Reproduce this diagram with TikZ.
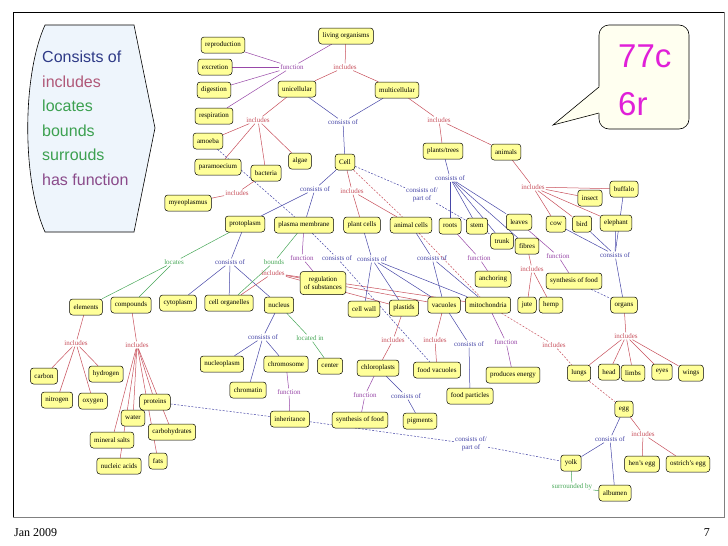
\documentclass[tikz,border=0pt]{standalone}
\usepackage{fontspec}
\setmainfont{Liberation Serif}
\newfontfamily\sansf{Liberation Sans}
\usetikzlibrary{backgrounds}
\pgfdeclarelayer{backzero}
\pgfsetlayers{backzero,background,main}
\definecolor{ny}{HTML}{FFFF99}
\definecolor{cb}{HTML}{4848A8}
\definecolor{cr}{HTML}{C8505C}
\definecolor{cp}{HTML}{9848A8}
\definecolor{cg}{HTML}{48A858}
\definecolor{legfill}{HTML}{EEF5FC}
\definecolor{callfill}{HTML}{FFFFF0}
\definecolor{mag}{HTML}{E020D8}
\definecolor{legblue}{HTML}{2E3A87}
\definecolor{legred}{HTML}{B05878}
\definecolor{leggreen}{HTML}{3CA050}
\definecolor{legpurple}{HTML}{8A4A8A}
\begin{document}
\begin{tikzpicture}[x=1pt,y=-1pt,
  nd/.style={draw, fill=ny, rounded corners=3pt, line width=0.5pt, font=\fontsize{7}{8}\selectfont, inner xsep=4pt, inner ysep=1pt, minimum height=16pt},
  lb/.style={font=\fontsize{7}{7.5}\selectfont, inner sep=1pt, align=center},
  lbb/.style={lb, text=cb}, lbr/.style={lb, text=cr}, lbp/.style={lb, text=cp}, lbg/.style={lb, text=cg},
  eb/.style={draw=cb, line width=0.5pt}, er/.style={draw=cr, line width=0.5pt},
  ep/.style={draw=cp, line width=0.5pt}, eg/.style={draw=cg, line width=0.5pt},
  dsh/.style={dash pattern=on 2pt off 1.5pt},
  legtext/.style={font=\sansf\fontsize{16}{18}\selectfont, anchor=base west, inner sep=0pt}]
\useasboundingbox (0,0) rectangle (728,546);
\begin{pgfonlayer}{backzero}
\fill[white] (0,0) rectangle (728,546);
\end{pgfonlayer}
% frame
\draw[line width=0.6pt] (13,12) -- (724,12);
\draw[line width=0.6pt] (13,12) -- (13,517);
\draw[line width=0.8pt, gray] (13,517) -- (724,517) -- (724,12);
% footer
\node[font=\fontsize{12}{13}\selectfont, anchor=base west, inner sep=0pt] (foot1) at (14,536) {Jan 2009};
\node[font=\fontsize{12}{13}\selectfont, anchor=base east, inner sep=0pt] (foot2) at (710,536) {7};
% legend shape
\draw[fill=legfill, line width=0.6pt] (45,25) -- (134,25) -- (155,128) -- (134,232) -- (45,232) .. controls (22,180) and (22,76) .. (45,25) -- cycle;
\node[legtext, text=legblue] (lg1) at (42,62.5) {Consists of};
\node[legtext, text=legred] (lg2) at (42,87) {includes};
\node[legtext, text=leggreen] (lg3) at (42,111.5) {locates};
\node[legtext, text=leggreen] (lg4) at (42,136) {bounds};
\node[legtext, text=leggreen] (lg5) at (42,160.5) {surrouds};
\node[legtext, text=legpurple] (lg6) at (42,185) {has function};
% callout
\draw[fill=callfill, line width=0.6pt, rounded corners=10pt] (599,87) -- (599,25) -- (689,25) -- (689,129) -- (599,129) -- (599,113);
\fill[callfill] (599.4,86) -- (553,125) -- (599.4,114) -- cycle;
\draw[line width=0.6pt] (599,87) -- (553,125) -- (599,113);
\node[font=\sansf\fontsize{33}{35}\selectfont, text=mag, anchor=base west, inner sep=0pt] (c77) at (618,67) {77c};
\node[font=\sansf\fontsize{33}{35}\selectfont, text=mag, anchor=base west, inner sep=0pt] (c6r) at (618,115) {6r};
% nodes
\node[nd] (liv) at (346,36) {living organisms};
\node[nd] (rep) at (223,45) {reproduction};
\node[nd] (exc) at (215,67) {excretion};
\node[nd] (dig) at (214,90) {digestion};
\node[nd] (res) at (214,116) {respiration};
\node[nd] (uni) at (297,89) {unicellular};
\node[nd] (mul) at (397,90) {multicellular};
\node[nd] (amo) at (208,141) {amoeba};
\node[nd] (par) at (218,167) {paramoecium};
\node[nd] (bac) at (266,173) {bacteria};
\node[nd] (alg) at (300,161) {algae};
\node[nd] (cell) at (345,162) {Cell};
\node[nd] (myc) at (188,203) {myeoplasmus};
\node[nd] (pla) at (443,151) {plants/trees};
\node[nd] (ani) at (506,152) {animals};
\node[nd] (ins) at (590,198) {insect};
\node[nd] (buf) at (624,189) {buffalo};
\node[nd] (prot) at (245,224) {protoplasm};
\node[nd] (pm) at (304,225) {plasma membrane};
\node[nd] (plc) at (362,225) {plant cells};
\node[nd] (anc) at (411,225) {animal cells};
\node[nd] (roo) at (450,226) {roots};
\node[nd] (ste) at (477,226) {stem};
\node[nd] (lea) at (519,222) {leaves};
\node[nd] (tru) at (502,241) {trunk};
\node[nd] (fib) at (527,246) {fibres};
\node[nd] (cow) at (556,224) {cow};
\node[nd] (bir) at (582,224) {bird};
\node[nd] (ele) at (616,223) {elephant};
\node[nd] (anch) at (493,279) {anchoring};
\node[nd] (syn1) at (574,281) {synthesis of food};
\node[nd, align=center, minimum height=23pt] (reg) at (323,283) {regulation\\of substances};
\node[nd] (cyt) at (178,303) {cytoplasm};
\node[nd] (org) at (229,303) {cell organelles};
\node[nd] (nuc) at (279,305) {nucleus};
\node[nd] (elem) at (86,307) {elements};
\node[nd] (comp) at (131,305) {compounds};
\node[nd] (cw) at (364,309) {cell wall};
\node[nd] (plas) at (404,308) {plastids};
\node[nd] (vac) at (444,305) {vacuoles};
\node[nd] (mit) at (488,305) {mitochondria};
\node[nd] (jut) at (527,305) {jute};
\node[nd] (hem) at (551,305) {hemp};
\node[nd] (orgs) at (624,305) {organs};
\node[nd] (nup) at (222,364) {nucleoplasm};
\node[nd] (chr) at (286,364) {chromosome};
\node[nd] (cen) at (330,366) {center};
\node[nd] (chl) at (378,368) {chloroplasts};
\node[nd] (fv) at (437,370) {food vacuoles};
\node[nd] (pe) at (513,375) {produces energy};
\node[nd] (lun) at (579,373) {lungs};
\node[nd] (hea) at (609,372) {head};
\node[nd] (lim) at (633,373) {limbs};
\node[nd] (eye) at (662,372) {eyes};
\node[nd] (win) at (691,373) {wings};
\node[nd] (car) at (44,376) {carbon};
\node[nd] (hyd) at (106,374) {hydrogen};
\node[nd] (nit) at (57,400) {nitrogen};
\node[nd] (oxy) at (93,401) {oxygen};
\node[nd] (pro) at (155,402) {proteins};
\node[nd] (wat) at (133,418) {water};
\node[nd] (cbh) at (172,432) {carbohydrates};
\node[nd] (min) at (112,440) {mineral salts};
\node[nd] (fat) at (158,461) {fats};
\node[nd] (nuca) at (119,466) {nucleic acids};
\node[nd] (chm) at (248,390) {chromatin};
\node[nd] (inh) at (290,419) {inheritance};
\node[nd] (syn2) at (360,420) {synthesis of food};
\node[nd] (pig) at (420,421) {pigments};
\node[nd] (fp) at (470,396) {food particles};
\node[nd] (egg) at (624,409) {egg};
\node[nd] (yol) at (571,463) {yolk};
\node[nd] (hen) at (642,464) {hen's egg};
\node[nd] (ost) at (688,464) {ostrich's egg};
\node[nd] (alb) at (615,493) {albumen};
% labels
\node[lbp] (f1) at (292,67) {function};
\node[lbr] (i1) at (345,67) {includes};
\node[lbr] (i2) at (258,120) {includes};
\node[lbb] (c1) at (343,122) {consists of};
\node[lbr] (i3) at (439,120) {includes};
\node[lbr] (i4) at (237,193) {includes};
\node[lbb] (c2) at (315,189) {consists of};
\node[lbr] (i5) at (352,191) {includes};
\node[lbb] (cp1) at (422,195) {consists of/\\part of};
\node[lbb] (c3) at (450,178) {consists of};
\node[lbr] (i6) at (533,187) {includes};
\node[lbg] (loc) at (174,262) {locates};
\node[lbb] (c4) at (230,262) {consists of};
\node[lbg] (bnd) at (274,262) {bounds};
\node[lbp] (f2) at (302,258) {function};
\node[lbb] (c5) at (337,258) {consists of};
\node[lbr] (i7) at (273,273) {includes};
\node[lbb] (c6) at (372,259) {consists of};
\node[lbb] (c7) at (432,258) {consists of};
\node[lbp] (f3) at (479,258) {function};
\node[lbp] (f4) at (558,256) {function};
\node[lbr] (i8) at (532,269) {includes};
\node[lbb] (c8) at (615,255) {consists of};
\node[lbr] (i9) at (76,343) {includes};
\node[lbr] (i10) at (137,345) {includes};
\node[lbb] (c9) at (263,337) {consists of};
\node[lbg] (li) at (310,338) {located in};
\node[lbr] (i11) at (393,340) {includes};
\node[lbr] (i12) at (435,340) {includes};
\node[lbb] (c10) at (469,344) {consists of};
\node[lbp] (f5) at (506,342) {function};
\node[lbr] (i13) at (554,345) {includes};
\node[lbr] (i14) at (626,336) {includes};
\node[lbp] (f6) at (289,392) {function};
\node[lbp] (f7) at (365,395) {function};
\node[lbb] (c11) at (406,396) {consists of};
\node[lbb] (cp2) at (471,444) {consists of/\\part of};
\node[lbb] (c12) at (610,439) {consists of};
\node[lbr] (i15) at (643,434) {includes};
\node[lbg] (sb) at (572,487) {surrounded by};
% edges
\begin{scope}[on background layer]
\foreach \t in {rep,exc,dig,res} \draw[ep] (f1) -- (\t);
\draw[ep] (liv) -- (f1);
\draw[ep] (pm) -- (f2); \draw[ep] (f2) -- (reg);
\draw[ep] (roo) -- (f3); \draw[ep] (f3) -- (anch);
\draw[ep] (lea) -- (f4); \draw[ep] (f4) -- (syn1);
\draw[ep] (mit) -- (f5); \draw[ep] (f5) -- (pe);
\draw[ep] (chr) -- (f6); \draw[ep] (f6) -- (inh);
\draw[ep] (chl) -- (f7); \draw[ep] (f7) -- (syn2);
% includes
\draw[er] (liv) -- (i1); \foreach \t in {uni,mul} \draw[er] (i1) -- (\t);
\draw[er] (uni) -- (i2); \foreach \t in {amo,par,bac,alg} \draw[er] (i2) -- (\t);
\draw[er] (mul) -- (i3); \foreach \t in {pla,ani} \draw[er] (i3) -- (\t);
\draw[er] (bac) -- (i4); \draw[er] (i4) -- (myc);
\draw[er] (cell) -- (i5); \foreach \t in {plc,anc} \draw[er] (i5) -- (\t);
\draw[er] (ani) -- (i6); \foreach \t in {ins,buf,ele,bir,cow} \draw[er] (i6) -- (\t);
\draw[er] (org) -- (i7); \foreach \t in {plas,vac,mit} \draw[er] (i7) -- (\t);
\draw[er] (fib) -- (i8); \foreach \t in {jut,hem} \draw[er] (i8) -- (\t);
\draw[er] (elem) -- (i9); \foreach \t in {car,hyd,nit,oxy} \draw[er] (i9) -- (\t);
\draw[er] (comp) -- (i10); \foreach \t in {pro,wat,cbh,min,fat,nuca} \draw[er] (i10) -- (\t);
\draw[er] (plas) -- (i11); \draw[er] (i11) -- (chl);
\draw[er] (vac) -- (i12); \draw[er] (i12) -- (fv);
\draw[er] (orgs) -- (i14); \foreach \t in {lun,hea,lim,eye,win} \draw[er] (i14) -- (\t);
\draw[er] (egg) -- (i15); \foreach \t in {hen,ost} \draw[er] (i15) -- (\t);
\draw[er, dsh] (cell) -- (anc);
\draw[er, dsh] (anc) -- (mit);
\draw[er, dsh] (mit) -- (i13); \draw[er, dsh] (i13) -- (lun);
\draw[er, dsh] (lun) -- (egg);
% consists of
\draw[eb] (uni) -- (c1); \draw[eb] (mul) -- (c1); \draw[eb] (c1) -- (cell);
\draw[eb] (cell) -- (c2); \foreach \t in {prot,pm} \draw[eb] (c2) -- (\t);
\draw[eb] (pla) -- (c3); \foreach \t in {roo,ste,tru,lea,fib} \draw[eb] (c3) -- (\t);
\draw[eb] (prot) -- (c4); \foreach \t in {cyt,org,nuc} \draw[eb] (c4) -- (\t);
\draw[eb] (plc) -- (c6); \foreach \t in {cw,plas,vac,mit} \draw[eb] (c6) -- (\t);
\draw[eb] (anc) -- (c7); \foreach \t in {vac,mit} \draw[eb] (c7) -- (\t);
\foreach \t in {ele,bir,cow,buf} \draw[eb] (\t) -- (c8);
\draw[eb] (c8) -- (orgs);
\draw[eb] (nuc) -- (c9); \foreach \t in {nup,chr,chm} \draw[eb] (c9) -- (\t);
\draw[eb] (vac) -- (c10); \draw[eb] (c10) -- (fp);
\draw[eb] (chl) -- (c11); \draw[eb] (c11) -- (pig);
\draw[eb] (egg) -- (c12); \foreach \t in {yol,alb} \draw[eb] (c12) -- (\t);
\draw[eb, dsh] (cell) -- (cp1); \draw[eb, dsh] (cp1) -- (tru);
\draw[eb, dsh] (amo) -- (pm);
\draw[eb, dsh] (pm) -- (c5); \draw[eb, dsh] (c5) -- (fv);
\draw[eb, dsh] (syn1) -- (orgs);
\draw[eb, dsh] (pro) -- (inh); \draw[eb, dsh] (inh) -- (cp2); \draw[eb, dsh] (cp2) -- (yol);
% green
\draw[eg] (prot) -- (loc); \foreach \t in {elem,comp} \draw[eg] (loc) -- (\t);
\draw[eg] (pm) -- (bnd); \draw[eg] (bnd) -- (org);
\draw[eg] (nuc) -- (li); \draw[eg] (li) -- (cen);
\draw[eg] (yol) -- (sb); \draw[eg] (sb) -- (alb);
\end{scope}
\end{tikzpicture}
\end{document}
